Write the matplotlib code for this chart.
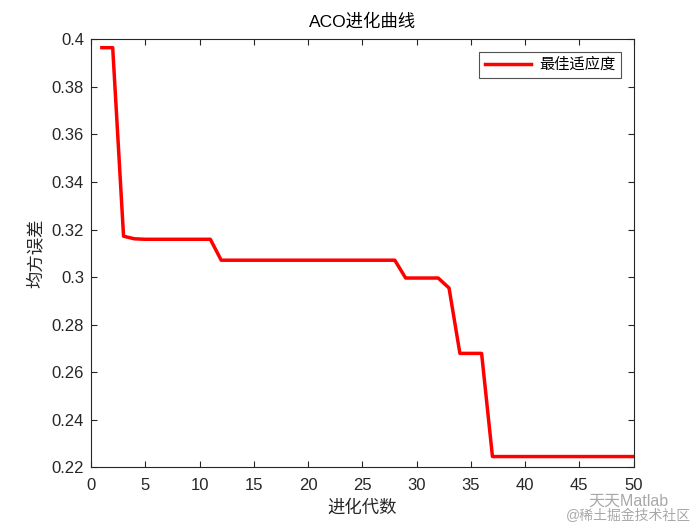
import matplotlib.pyplot as plt

plt.rcParams['font.family'] = ['Liberation Sans', 'Noto Sans CJK SC', 'DejaVu Sans']

# generation index and best fitness (MSE) per generation
gens = list(range(1, 51))
best = ([0.3965, 0.3965, 0.3172, 0.3161] + [0.3159] * 7
        + [0.3071] * 17 + [0.2996] * 4 + [0.2954]
        + [0.2679] * 3 + [0.2245] * 14)

fig = plt.figure(figsize=(7, 5.25), dpi=100)
ax = fig.add_axes([0.13, 0.11, 0.775, 0.815])

ax.plot(gens, best, color='#ff0000', linewidth=2.5, label='最佳适应度')

ax.set_xlim(0, 50)
ax.set_ylim(0.22, 0.4)
ax.set_xticks(range(0, 51, 5))
ax.set_yticks([0.22, 0.24, 0.26, 0.28, 0.3, 0.32, 0.34, 0.36, 0.38, 0.4])
ax.set_yticklabels(['0.22', '0.24', '0.26', '0.28', '0.3', '0.32', '0.34', '0.36', '0.38', '0.4'])
ax.tick_params(direction='in', top=True, right=True, labelsize=12, length=4, width=0.8, colors='#262626')
ax.tick_params(axis='x', pad=8)
ax.tick_params(axis='y', pad=5)
for s in ax.spines.values():
    s.set_color('#262626')
    s.set_linewidth(0.8)

ax.set_title('ACO进化曲线', fontsize=12.5, color='#000000', pad=9)
ax.set_xlabel('进化代数', fontsize=12.5, color='#262626', labelpad=4)
ax.set_ylabel('均方误差', fontsize=12.5, color='#262626', labelpad=6)

leg = ax.legend(loc='upper right', fontsize=11, frameon=True, fancybox=False,
                handlelength=3.0, handletextpad=0.5, borderpad=0.4, borderaxespad=0.8)
leg.get_frame().set_edgecolor('#262626')
leg.get_frame().set_linewidth(0.8)

# watermark
fig.text(0.84, 0.036, '天天Matlab', fontsize=11.5, color='#a8a8a8')
fig.text(0.808, 0.01, '@稀土掘金技术社区', fontsize=10, color='#a8a8a8')

fig.savefig('out.png', dpi=100)
